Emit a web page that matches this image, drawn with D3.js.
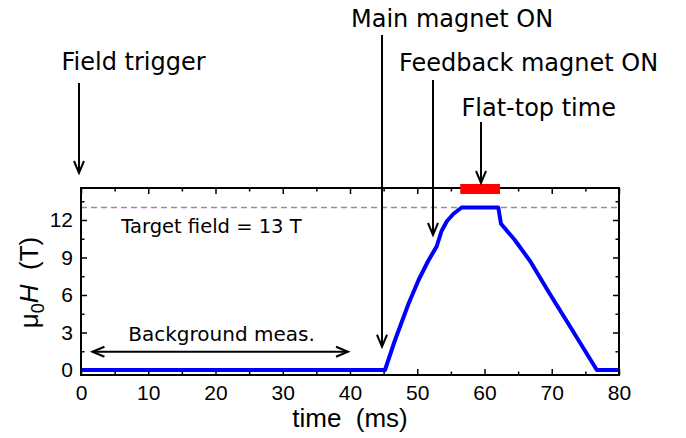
<!DOCTYPE html>
<html>
<head>
<meta charset="utf-8">
<script src="https://cdn.jsdelivr.net/npm/d3@7"></script>
<style>
  body { margin: 0; background: #fff; }
  svg { display: block; }
  .tick text { font-family: "Liberation Sans", Arial, sans-serif; font-size: 21px; fill: #000; }
  .note { font-family: "DejaVu Sans", Verdana, sans-serif; fill: #000; }
</style>
</head>
<body>
<svg id="chart"></svg>
<script>
// field pulse
const timeMs = [0, 45.2, 46.7, 48.7, 50.2, 51.6, 52.9, 53.6, 54.4, 55.4, 56.6, 62.05, 62.45, 64.5, 66.8, 69.7, 72.7, 76.7, 80];
const fieldT = [0, 0, 2.4, 5.3, 7.2, 8.7, 9.9, 11.1, 11.9, 12.5, 13.0, 13.0, 11.7, 10.4, 8.7, 6.1, 3.5, 0, 0];

const xMajor = [0, 10, 20, 30, 40, 50, 60, 70, 80];
const xMinor = [5, 15, 25, 35, 45, 55, 65, 75];
const yMajor = [0, 3, 6, 9, 12];
const yMinor = [1.5, 4.5, 7.5, 10.5, 13.5];

const targetField = 13;
const flatTop = [56.4, 62.3];
const background = [1.7, 39.7];

const svgWidth = 686, svgHeight = 438;
const margin = { top: 188, right: 67, bottom: 63, left: 81 };
const width = svgWidth - margin.left - margin.right;
const height = svgHeight - margin.top - margin.bottom;

const svg = d3.select("#chart").attr("width", svgWidth).attr("height", svgHeight);
const g = svg.append("g").attr("transform", `translate(${margin.left},${margin.top})`);

const x = d3.scaleLinear().domain([0, 80]).range([0, width]);
const y = d3.scaleLinear().domain([-0.4, 14.56]).range([height, 0]);

// axes, ticks pointing inwards
g.append("g").attr("transform", `translate(0,${height})`)
  .call(d3.axisBottom(x).tickValues(xMajor).tickSizeInner(-6).tickSizeOuter(0).tickPadding(10));
g.append("g").attr("transform", `translate(0,${height})`)
  .call(d3.axisBottom(x).tickValues(xMinor).tickSizeInner(-3.5).tickSizeOuter(0).tickFormat(""));
g.append("g")
  .call(d3.axisTop(x).tickValues(xMajor).tickSizeInner(-6).tickSizeOuter(0).tickFormat(""));
g.append("g")
  .call(d3.axisTop(x).tickValues(xMinor).tickSizeInner(-3.5).tickSizeOuter(0).tickFormat(""));
g.append("g")
  .call(d3.axisLeft(y).tickValues(yMajor).tickSizeInner(-6).tickSizeOuter(0).tickPadding(8));
g.append("g")
  .call(d3.axisLeft(y).tickValues(yMinor).tickSizeInner(-3.5).tickSizeOuter(0).tickFormat(""));
g.append("g").attr("transform", `translate(${width},0)`)
  .call(d3.axisRight(y).tickValues(yMajor).tickSizeInner(-6).tickSizeOuter(0).tickFormat(""));
g.append("g").attr("transform", `translate(${width},0)`)
  .call(d3.axisRight(y).tickValues(yMinor).tickSizeInner(-3.5).tickSizeOuter(0).tickFormat(""));

g.selectAll(".domain").remove();
g.selectAll(".tick line").attr("stroke", "#000").attr("stroke-width", 1.5);

// target field dashed line
g.append("line")
  .attr("x1", 0).attr("x2", width)
  .attr("y1", y(targetField)).attr("y2", y(targetField))
  .attr("stroke", "#a57fc4").attr("stroke-width", 1.5)
  .attr("stroke-dasharray", "6,4");

// the pulse
const line = d3.line().x(d => x(d[0])).y(d => y(d[1]));
g.append("path")
  .datum(timeMs.map((t, i) => [t, fieldT[i]]))
  .attr("fill", "none")
  .attr("stroke", "#0000ff")
  .attr("stroke-width", 4)
  .attr("stroke-linejoin", "round")
  .attr("d", line);

// frame
g.append("rect")
  .attr("width", width).attr("height", height)
  .attr("fill", "none").attr("stroke", "#000").attr("stroke-width", 2);

// flat-top bar
g.append("rect")
  .attr("x", x(flatTop[0])).attr("width", x(flatTop[1]) - x(flatTop[0]))
  .attr("y", y(14.88)).attr("height", y(14.08) - y(14.88))
  .attr("fill", "#ff0000");

// arrows
const head = (x2, y2, dir) => {
  // dir: 1 = pointing down, "l" / "r" horizontal
  if (dir === "l") return `M${x2 + 12},${y2 - 5}L${x2},${y2}L${x2 + 12},${y2 + 5}`;
  if (dir === "r") return `M${x2 - 12},${y2 - 5}L${x2},${y2}L${x2 - 12},${y2 + 5}`;
  return `M${x2 - 5},${y2 - 12}L${x2},${y2}L${x2 + 5},${y2 - 12}`;
};
const arrow = (t, v1, v2) => {
  const px = x(t);
  g.append("line").attr("x1", px).attr("x2", px).attr("y1", y(v1)).attr("y2", y(v2))
    .attr("stroke", "#000").attr("stroke-width", 2);
  g.append("path").attr("d", head(px, y(v2))).attr("fill", "none")
    .attr("stroke", "#000").attr("stroke-width", 2);
};
arrow(-0.3, 22.96, 15.76);   // field trigger
arrow(44.76, 26.8, 1.86);    // main magnet
arrow(52.34, 23.2, 10.8);    // feedback magnet
arrow(59.48, 19.84, 14.96);  // flat-top

// background double arrow
const by = y(1.46);
g.append("line").attr("x1", x(background[0])).attr("x2", x(background[1]))
  .attr("y1", by).attr("y2", by).attr("stroke", "#000").attr("stroke-width", 2);
g.append("path").attr("d", head(x(background[0]), by, "l")).attr("fill", "none")
  .attr("stroke", "#000").attr("stroke-width", 2);
g.append("path").attr("d", head(x(background[1]), by, "r")).attr("fill", "none")
  .attr("stroke", "#000").attr("stroke-width", 2);

// labels
const note = (t, v, txt, size, anchor) => {
  g.append("text").attr("class", "note")
    .attr("x", x(t)).attr("y", y(v))
    .attr("font-size", size)
    .attr("text-anchor", anchor || "start")
    .text(txt);
};
note(-2.9, 24.0, "Field trigger", 24);
note(40.15, 27.44, "Main magnet ON", 24);
note(47.29, 23.92, "Feedback magnet ON", 24);
note(56.58, 20.32, "Flat-top time", 24);
note(20.9, 2.3, "Background meas.", 20, "middle");
note(6.0, 11.0, "Target field = 13 T", 19.5);

// axis titles
g.append("text")
  .attr("x", x(40)).attr("y", height + 52)
  .attr("text-anchor", "middle")
  .attr("font-family", "Liberation Sans, Arial, sans-serif")
  .attr("font-size", 26)
  .attr("xml:space", "preserve")
  .text("time  (ms)");

const yt = g.append("text")
  .attr("transform", `translate(-43,${y(7)}) rotate(-90)`)
  .attr("text-anchor", "middle")
  .attr("font-family", "Liberation Sans, Arial, sans-serif")
  .attr("font-size", 26)
  .attr("xml:space", "preserve");
yt.append("tspan").text("\u03bc");
yt.append("tspan").attr("font-size", 18).attr("dy", 6).text("0");
yt.append("tspan").attr("font-style", "italic").attr("dy", -6).text("H");
yt.append("tspan").text("  (T)");
</script>
</body>
</html>
